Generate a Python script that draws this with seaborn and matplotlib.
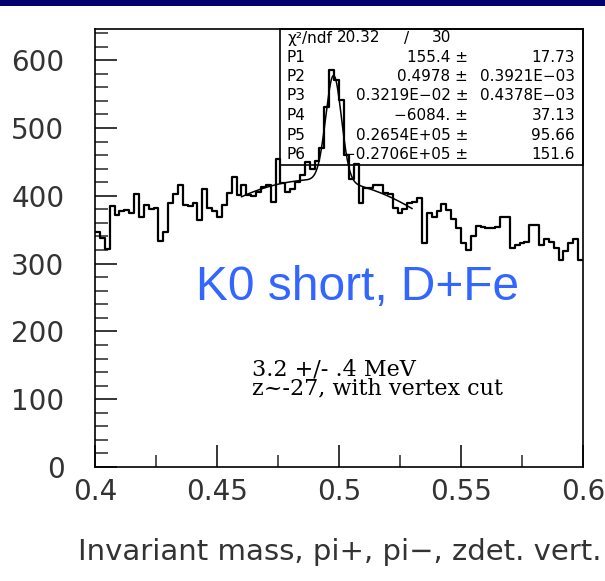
import numpy as np
import pandas as pd
import matplotlib
matplotlib.use("Agg")
import matplotlib.pyplot as plt
from matplotlib.patches import Rectangle
from matplotlib.ticker import MultipleLocator
import seaborn as sns

# ---------------- data ----------------
mass_range = (0.4, 0.6)
n_bins = 100
counts = [
    346, 338, 322, 385, 372, 377, 379, 374, 403, 369,
    386, 380, 382, 334, 347, 389, 403, 416, 386, 385,
    389, 364, 410, 382, 378, 369, 386, 404, 428, 401,
    416, 401, 399, 406, 413, 416, 391, 455, 419, 405,
    410, 420, 430, 450, 440, 452, 470, 531, 585, 571,
    541, 460, 425, 447, 389, 411, 411, 416, 416, 404,
    402, 382, 375, 380, 389, 391, 397, 331, 374, 369,
    377, 388, 379, 366, 352, 330, 320, 340, 355, 354,
    352, 352, 354, 369, 369, 323, 327, 330, 332, 357,
    357, 327, 337, 332, 323, 305, 318, 330, 337, 305,
]
# fit parameters as printed in the stat box (gauss + 2nd order polynomial)
fit_params = [155.4, 0.4978, 0.3219e-02, -6084.0, 0.2654e05, -0.2706e05]
fit_range = (0.46, 0.53)

stat_labels = ["P1", "P2", "P3", "P4", "P5", "P6"]
stat_values = ["155.4 \u00b1", "0.4978 \u00b1", "0.3219E\u221202 \u00b1", "\u22126084. \u00b1",
               "0.2654E+05 \u00b1", "\u22120.2706E+05 \u00b1"]
stat_errors = ["17.73", "0.3921E\u221203", "0.4378E\u221203", "37.13", "95.66", "151.6"]
chi2_text = ("\u03c7\u00b2/ndf", "20.32", "/", "30")

x_ticks = [0.4, 0.45, 0.5, 0.55, 0.6]
x_ticklabels = ["0.4", "0.45", "0.5", "0.55", "0.6"]
y_ticks = [0, 100, 200, 300, 400, 500, 600]
x_label = "Invariant mass, pi+, pi\u2212, zdet. vert."
title_text = "K0 short, D+Fe"
note_text = "3.2 +/- .4 MeV\nz~-27, with vertex cut"

# ---------------- figure ----------------
W, H = 605, 581
sns.set_style("ticks")
plt.rcParams["font.family"] = ["DejaVu Sans"]

fig = plt.figure(figsize=(W / 100, H / 100), dpi=100)
fig.patch.set_facecolor("white")

def fx(x):
    return x / W

def fy(y):
    return 1 - y / H

ax_l, ax_r, ax_t, ax_b = 95, 583, 29, 467
ax = fig.add_axes([fx(ax_l), fy(ax_b), (ax_r - ax_l) / W, (ax_b - ax_t) / H])
ax.set_facecolor("white")

bin_w = (mass_range[1] - mass_range[0]) / n_bins
centers = mass_range[0] + bin_w * (np.arange(n_bins) + 0.5)
df = pd.DataFrame({"mass": centers, "count": counts})

sns.histplot(data=df, x="mass", weights="count", bins=n_bins, binrange=mass_range,
             element="step", fill=False, color="black", linewidth=1.6, ax=ax, zorder=4)

# fit curve
p1, p2, p3, p4, p5, p6 = fit_params
xf = np.linspace(fit_range[0], fit_range[1], 400)
yf = p1 * np.exp(-0.5 * ((xf - p2) / p3) ** 2) + p4 + p5 * xf + p6 * xf ** 2
sns.lineplot(x=xf, y=yf, color="black", linewidth=1.1, ax=ax, zorder=5)

ax.set_xlim(*mass_range)
ax.set_ylim(0, (ax_b - ax_t) / 0.678)
ax.set_xticks(x_ticks)
ax.set_xticklabels(x_ticklabels)
ax.set_yticks(y_ticks)
ax.xaxis.set_minor_locator(MultipleLocator(0.025))
ax.yaxis.set_minor_locator(MultipleLocator(20))
ax.tick_params(which="major", direction="in", length=16, width=1.1,
               labelsize=20, top=False, right=False, colors="black")
ax.tick_params(which="minor", direction="in", length=9, width=1.1,
               top=False, right=False)
ax.tick_params(axis="x", which="major", pad=8)
ax.tick_params(axis="y", which="major", pad=22)
for lab in ax.get_xticklabels() + ax.get_yticklabels():
    lab.set_color("#333333")
ax.set_xlabel("")
ax.set_ylabel("")
for s in ax.spines.values():
    s.set_visible(True)
    s.set_linewidth(1.2)
    s.set_color("black")

# stat box
box_left, box_bottom = 280, 165
ax.add_patch(Rectangle((fx(box_left), fy(box_bottom)), fx(ax_r) - fx(box_left),
                       fy(ax_t) - fy(box_bottom), transform=fig.transFigure,
                       fill=False, edgecolor="black", linewidth=1.2, zorder=6,
                       clip_on=False))
sfont = dict(fontsize=11, color="black", va="center", family="DejaVu Sans")
row0 = 38
fig.text(fx(287), fy(row0), chi2_text[0], ha="left", **sfont)
fig.text(fx(337), fy(row0), chi2_text[1], ha="left", **sfont)
fig.text(fx(407), fy(row0), chi2_text[2], ha="center", **sfont)
fig.text(fx(451), fy(row0), chi2_text[3], ha="right", **sfont)
for i, (lab, val, err) in enumerate(zip(stat_labels, stat_values, stat_errors)):
    yy = 57 + i * 19.5
    fig.text(fx(287), fy(yy), lab, ha="left", **sfont)
    fig.text(fx(468), fy(yy), val, ha="right", **sfont)
    fig.text(fx(575), fy(yy), err, ha="right", **sfont)

# blue title
fig.text(fx(358), fy(288), title_text, ha="center", va="center",
         fontsize=34.5, color="#3366ff", family="Liberation Sans")

# note
fig.text(fx(252), fy(379), note_text, ha="left", va="center", fontsize=16,
         family="DejaVu Serif", linespacing=0.8, color="black")

# x label
fig.text(fx(340), fy(552), x_label, ha="center", va="center", fontsize=21,
         color="#333333")

# top blue band
fig.patches.append(Rectangle((0, fy(6)), 1, 6 / H, transform=fig.transFigure,
                             facecolor="#000070", edgecolor="none", zorder=10))

fig.savefig("out.png", dpi=100, facecolor="white")
